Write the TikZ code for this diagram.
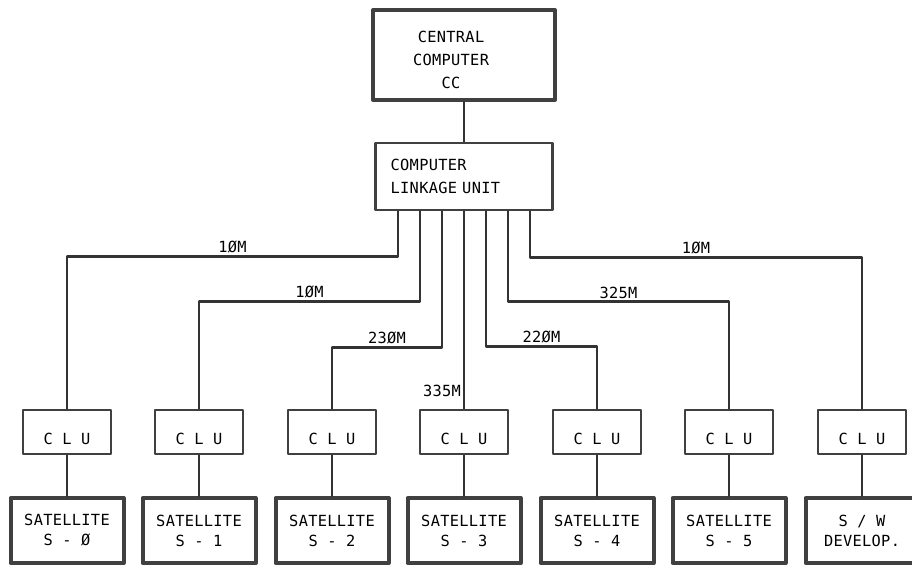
\documentclass[tikz,border=0pt]{standalone}
\usepackage{fontspec}
\newfontfamily\plotfont[LetterSpace=2]{DejaVu Sans Mono}
\tikzset{
	wire/.style={draw=black!80,line width=1.7pt},
	lbl/.style={font=\plotfont\fontsize{11.5}{12}\selectfont,inner sep=1.5pt},
	bigbox/.style={draw=black!75,line width=3pt,rectangle,inner sep=0pt},
	unitbox/.style={draw=black!75,line width=2.2pt,rectangle,inner sep=0pt,
		font=\plotfont\fontsize{11.5}{17}\selectfont},
	clubox/.style={unitbox,minimum width=66pt,minimum height=33pt,text height=19pt},
	satbox/.style={bigbox,minimum width=84.75pt,minimum height=48.75pt,align=center,
		font=\plotfont\fontsize{11.5}{15}\selectfont}
}
\begin{document}
\begin{tikzpicture}[x=0.75pt,y=-0.75pt,line cap=round,line join=round]
	\useasboundingbox (0,0) rectangle (912,566);
	
	% central computer
	\node[bigbox,minimum width=136.5pt,minimum height=67.5pt] (cc) at (464,55) {};
	\node[lbl,align=center,font=\plotfont\fontsize{11.5}{17}\selectfont] (cctext) at (451,60) {CENTRAL\\COMPUTER\\CC};
	
	% linkage unit
	\node[unitbox,minimum height=50.25pt,text width=110pt,inner xsep=11.25pt,align=left] (link) at (464,176.5) {COMPUTER\\LINKAGE UNIT};
	
	\draw[wire] (cc) -- (link);
	
	% CLU row
	\node[clubox] (clu0) at (67,432) {C L U};
	\node[clubox] (clu1) at (199,432) {C L U};
	\node[clubox] (clu2) at (332,432) {C L U};
	\node[clubox] (clu3) at (464,432) {C L U};
	\node[clubox] (clu4) at (597,432) {C L U};
	\node[clubox] (clu5) at (729,432) {C L U};
	\node[clubox] (clu6) at (862,432) {C L U};
	
	% satellites
	\node[satbox] (sat0) at (67,530.5) {SATELLITE\\S - Ø};
	\node[satbox] (sat1) at (199,530.5) {SATELLITE\\S - 1};
	\node[satbox] (sat2) at (332,530.5) {SATELLITE\\S - 2};
	\node[satbox] (sat3) at (464,530.5) {SATELLITE\\S - 3};
	\node[satbox] (sat4) at (597,530.5) {SATELLITE\\S - 4};
	\node[satbox] (sat5) at (729,530.5) {SATELLITE\\S - 5};
	\node[satbox] (sat6) at (862,530.5) {S / W\\DEVELOP.};
	
	% lines to the CLUs
	\draw[wire] ([xshift=-49.5pt]link.south) -- ++(0,45) -| node[lbl,pos=0.25,above] (d0) {1ØM} (clu0.north);
	\draw[wire] ([xshift=-33pt]link.south) -- ++(0,90) -| node[lbl,pos=0.25,above] (d1) {1ØM} (clu1.north);
	\draw[wire] ([xshift=-16.5pt]link.south) -- ++(0,136) -| node[lbl,pos=0.25,above] (d2) {23ØM} (clu2.north);
	\draw[wire] (link.south) -- node[lbl,pos=0.91,left] (d3) {335M} (clu3.north);
	\draw[wire] ([xshift=16.5pt]link.south) -- ++(0,135) -| node[lbl,pos=0.25,above] (d4) {22ØM} (clu4.north);
	\draw[wire] ([xshift=33pt]link.south) -- ++(0,90) -| node[lbl,pos=0.25,above] (d5) {325M} (clu5.north);
	\draw[wire] ([xshift=49.5pt]link.south) -- ++(0,46) -| node[lbl,pos=0.25,above] (d6) {1ØM} (clu6.north);
	
	% CLU to satellite
	\draw[wire] (clu0) -- (sat0);
	\draw[wire] (clu1) -- (sat1);
	\draw[wire] (clu2) -- (sat2);
	\draw[wire] (clu3) -- (sat3);
	\draw[wire] (clu4) -- (sat4);
	\draw[wire] (clu5) -- (sat5);
	\draw[wire] (clu6) -- (sat6);
\end{tikzpicture}
\end{document}
